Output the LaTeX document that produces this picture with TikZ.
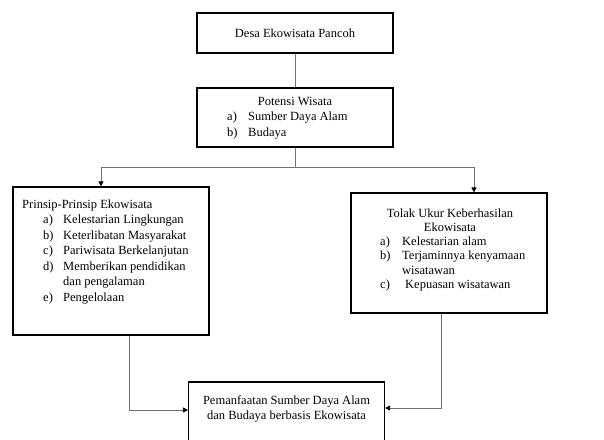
\documentclass[tikz,border=0pt]{standalone}
\usepackage{fontspec}
\setmainfont{Liberation Serif}
\usetikzlibrary{arrows.meta,positioning}

\begin{document}
\begin{tikzpicture}
[
x=1pt, y=-1pt,
every node/.style={font=\fontsize{12.5}{15}\selectfont},
kotak/.style={draw=black, line width=1.2pt, minimum width=196pt, inner sep=0pt},
isi/.style={inner sep=0pt, align=left},
garis/.style={draw=black!55, line width=0.8pt},
panah/.style={garis, -{Triangle[length=5pt,width=5pt,color=black]}}
]
\useasboundingbox (0,0) rectangle (604,439);
\fill[white] (0,0) rectangle (604,439);

\node[kotak, minimum height=40pt] (desa) at (295,33) {Desa Ekowisata Pancoh};

\node[kotak, minimum height=59pt] (potensi) at (295,117.5) {};
\node[isi] (potensijudul) at (295,101) {Potensi Wisata};
\node[isi, anchor=north west, font=\fontsize{12.5}{15.5}\selectfont] (potensiisi) at (227,112)
  {\makebox[21pt][l]{a)}Sumber Daya Alam\\
   \makebox[21pt][l]{b)}Budaya};

\node[kotak, minimum height=148pt] (prinsip) at (111,261) {};
\node[isi, anchor=north west, font=\fontsize{12.5}{15.5}\selectfont] (prinsipisi) at (22,199.5)
  {Prinsip-Prinsip Ekowisata\\
   \hspace*{21pt}\makebox[20pt][l]{a)}Kelestarian Lingkungan\\
   \hspace*{21pt}\makebox[20pt][l]{b)}Keterlibatan Masyarakat\\
   \hspace*{21pt}\makebox[20pt][l]{c)}Pariwisata Berkelanjutan\\
   \hspace*{21pt}\makebox[20pt][l]{d)}Memberikan pendidikan\\
   \hspace*{41pt}dan pengalaman\\
   \hspace*{21pt}\makebox[20pt][l]{e)}Pengelolaan};

\node[kotak, minimum height=120pt] (tolok) at (449,253) {};
\node[isi, align=center, anchor=north, font=\fontsize{12.5}{14.5}\selectfont] (tolokjudul) at (450,208.5)
  {Tolak Ukur Keberhasilan\\Ekowisata};
\node[isi, anchor=north west, font=\fontsize{12.5}{14.5}\selectfont] (tolokisi) at (380,236.5)
  {\makebox[22pt][l]{a)}Kelestarian alam\\
   \makebox[22pt][l]{b)}Terjaminnya kenyamaan\\
   \hspace*{22pt}wisatawan\\
   \makebox[22pt][l]{c)}\hspace*{3pt}Kepuasan wisatawan};

\node[kotak, minimum height=64pt] (manfaat) at (286.5,414) {};
\node[isi, align=center] (manfaatisi) at (286.5,408.5)
  {Pemanfaatan Sumber Daya Alam\\dan Budaya berbasis Ekowisata};

\coordinate (cabang) at (295,167);
\coordinate (cabangkiri) at (101,167);
\coordinate (cabangkanan) at (474,167);
\coordinate (turunkiri) at (129,410);
\coordinate (turunkanan) at (441,408);

\draw[garis] (desa) -- (potensi);
\draw[garis] (potensi) -- (cabang);
\draw[garis] (cabangkiri) -- (cabangkanan);
\draw[panah] (cabangkiri) -- (cabangkiri |- prinsip.north);
\draw[panah] (cabangkanan) -- (cabangkanan |- tolok.north);
\draw[panah] (prinsip.south -| turunkiri) |- (manfaat.west |- turunkiri);
\draw[panah] (tolok.south -| turunkanan) |- (manfaat.east |- turunkanan);
\end{tikzpicture}
\end{document}
